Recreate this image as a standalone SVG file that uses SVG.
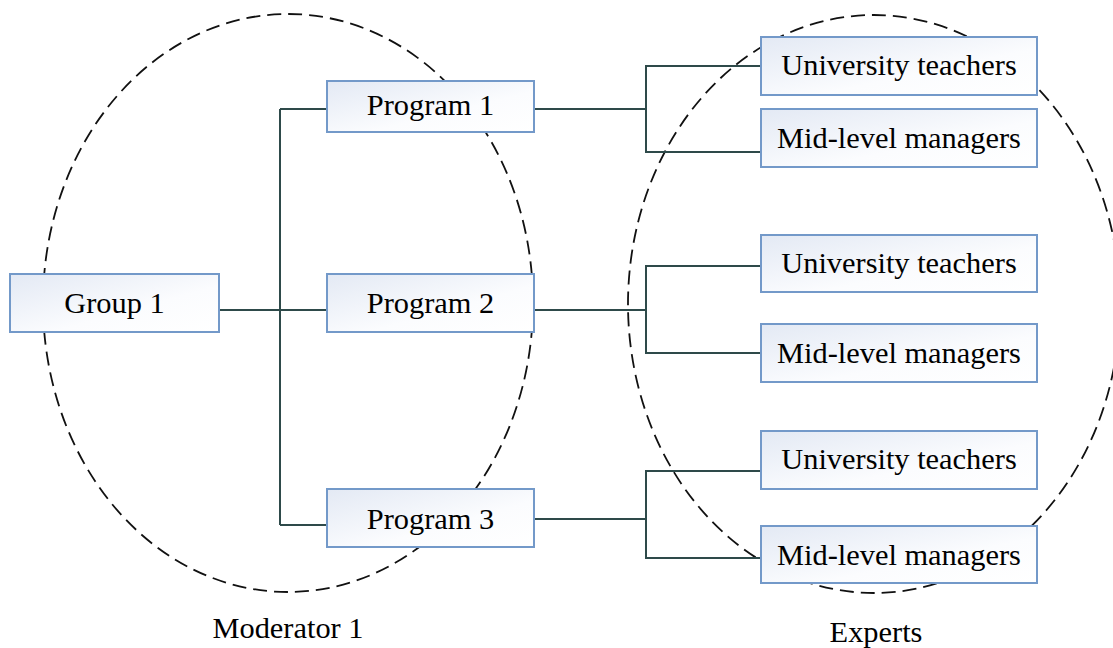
<svg xmlns="http://www.w3.org/2000/svg" width="1113" height="648" viewBox="0 0 1113 648">
<defs>
<linearGradient id="bg" x1="0" y1="0" x2="1" y2="1">
<stop offset="0" stop-color="#e3e9f4"/>
<stop offset="0.6" stop-color="#fbfcfe"/>
<stop offset="1" stop-color="#ffffff"/>
</linearGradient>
</defs>
<style>
.ell{fill:none;stroke:#111;stroke-width:1.8;stroke-dasharray:14 7}
.box{fill:url(#bg);stroke:#7399c9;stroke-width:2}
.lbl{font-family:'Liberation Serif','DejaVu Serif',serif;font-size:30.4px;fill:#000;text-anchor:middle}
.con{fill:none;stroke:#2e4a4a;stroke-width:2}
</style>
<rect width="1113" height="648" fill="#ffffff"/>
<g id="moderator-area">
<ellipse class="ell" cx="288" cy="303" rx="245" ry="289"/>
<text class="lbl" x="288" y="638">Moderator 1</text>
</g>
<g id="experts-area">
<ellipse class="ell" cx="874" cy="304" rx="246" ry="289"/>
<text class="lbl" x="876" y="642">Experts</text>
</g>
<g id="connectors">
<path class="con" d="M219 310 H327"/>
<path class="con" d="M280 109 V525"/>
<path class="con" d="M280 109 H327"/>
<path class="con" d="M280 525 H327"/>
<path class="con" d="M534 109 H646"/>
<path class="con" d="M761 66 H646 V152 H761"/>
<path class="con" d="M534 310 H646"/>
<path class="con" d="M761 266 H646 V353 H761"/>
<path class="con" d="M534 519 H646"/>
<path class="con" d="M761 471 H646 V558 H761"/>
</g>
<g id="group1">
<rect class="box" x="10" y="274" width="209" height="58"/>
<text class="lbl" x="114.5" y="313">Group 1</text>
</g>
<g id="program1">
<rect class="box" x="327" y="81" width="207" height="51"/>
<text class="lbl" x="430.5" y="115">Program 1</text>
</g>
<g id="program2">
<rect class="box" x="327" y="274" width="207" height="58"/>
<text class="lbl" x="430.5" y="313">Program 2</text>
</g>
<g id="program3">
<rect class="box" x="327" y="489" width="207" height="58"/>
<text class="lbl" x="430.5" y="529">Program 3</text>
</g>
<g id="ut1">
<rect class="box" x="761" y="37" width="276" height="58"/>
<text class="lbl" x="899" y="75">University teachers</text>
</g>
<g id="ml1">
<rect class="box" x="761" y="109" width="276" height="58"/>
<text class="lbl" x="899" y="148">Mid-level managers</text>
</g>
<g id="ut2">
<rect class="box" x="761" y="235" width="276" height="57"/>
<text class="lbl" x="899" y="273">University teachers</text>
</g>
<g id="ml2">
<rect class="box" x="761" y="324" width="276" height="58"/>
<text class="lbl" x="899" y="363">Mid-level managers</text>
</g>
<g id="ut3">
<rect class="box" x="761" y="431" width="276" height="58"/>
<text class="lbl" x="899" y="469">University teachers</text>
</g>
<g id="ml3">
<rect class="box" x="761" y="526" width="276" height="57"/>
<text class="lbl" x="899" y="565">Mid-level managers</text>
</g>
</svg>
